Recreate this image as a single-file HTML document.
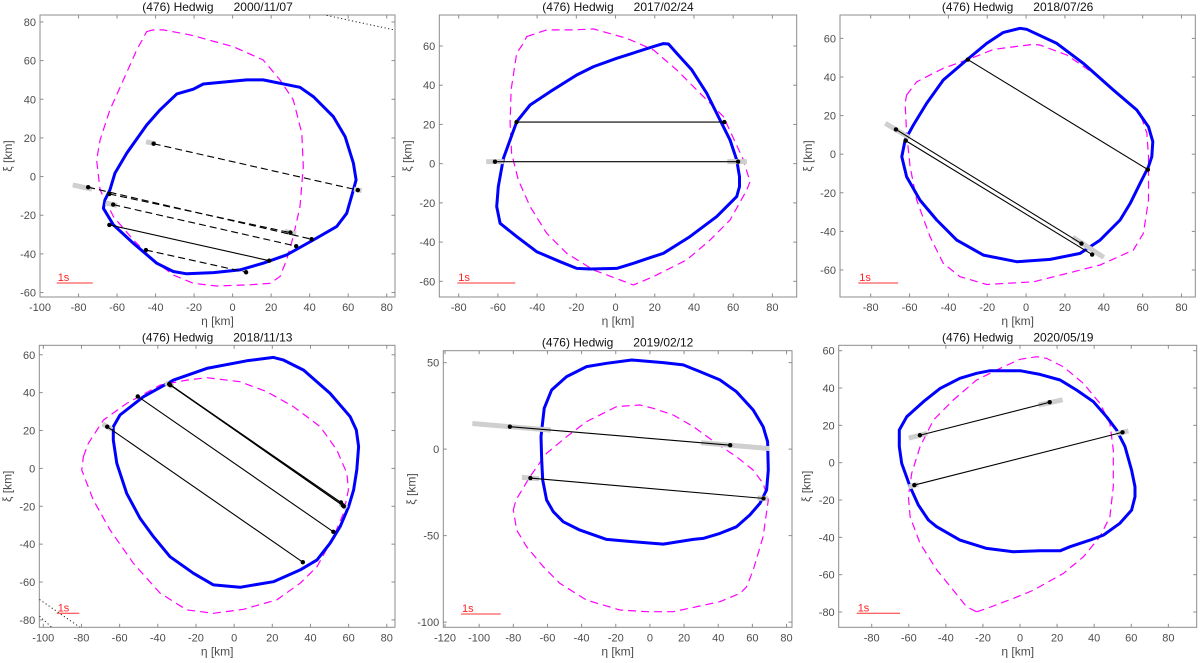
<!DOCTYPE html>
<html><head><meta charset="utf-8"><style>
html,body{margin:0;padding:0;background:#fff;}
svg{display:block;font-family:"Liberation Sans",sans-serif;}
.ttl{white-space:pre;}
</style></head><body>
<svg id="fig" width="1200" height="663" viewBox="0 0 1200 663" xmlns="http://www.w3.org/2000/svg"></svg>
<script>
// ---- data (km) ----
const titles = ["(476) Hedwig      2000/11/07","(476) Hedwig      2017/02/24","(476) Hedwig      2018/07/26","(476) Hedwig      2018/11/13","(476) Hedwig      2019/02/12","(476) Hedwig      2020/05/19"];
const xTicks1 = [-100,-80,-60,-40,-20,0,20,40,60,80];
const yTicks1 = [-60,-40,-20,0,20,40,60,80];
const xTicks2 = [-80,-60,-40,-20,0,20,40,60,80];
const yTicks2 = [-60,-40,-20,0,20,40,60];
const yTicks4 = [-80,-60,-40,-20,0,20,40,60];
const xTicks5 = [-120,-100,-80,-60,-40,-20,0,20,40,60,80];
const yTicks5 = [-100,-50,0,50];

const blue1 = [[-20.4,45.2],[-15.2,47.9],[7.3,50],[15.9,50],[35,46.2],[41.9,41.4],[52.3,31],[58.4,20.7],[62.7,6.9],[64.1,-1.7],[62.7,-6.9],[59.2,-19],[54,-25.9],[41.9,-32.8],[28,-40.5],[15.9,-44.8],[3.8,-48.3],[-10,-49.7],[-23.9,-50.3],[-30.8,-49.1],[-39.4,-44.8],[-51.5,-34.5],[-61.9,-25],[-67.1,-16.4],[-66.3,-12.1],[-63.7,-6.9],[-61.1,1.7],[-55,12.1],[-44.6,26.7],[-37.7,34.5],[-29,42.8]];
const mag1 = [[-44.6,75],[-41.2,75.9],[-36,75.9],[-22.1,73.3],[0.4,67.2],[15.9,60.3],[24.6,50],[31.5,39.7],[35.9,22.4],[36.7,5.2],[35,-15.5],[31.5,-31],[28,-43.1],[24.6,-51.7],[19.4,-55.2],[9,-56],[-8.3,-56.6],[-20.4,-55.2],[-30.8,-50.9],[-41.2,-43.1],[-51.5,-32.8],[-61.9,-20.7],[-68.8,-6.9],[-70.6,8.6],[-68.8,19],[-63.7,34.5],[-56.7,50],[-49.8,65.5]];
const chords1 = [[-41,17,65,-7,1],[-75,-5.5,41,-32.4,1],[-64,-9,30,-29,1],[-62,-14.5,33,-36,1],[-64,-25,19,-43.5,0],[-45,-38,7,-49.5,1]];
const grey1 = [[-83,-4.3,-73,-6.5],[-45,18,-40,17],[63,-6.5,67,-7.3],[-66,-13.6,-60,-15],[27,-28.3,33,-29.6]];
const blue2 = [[-43.6,29.9],[-33.4,36.7],[-19.8,45.2],[-11.2,49.5],[0.6,53.7],[19.3,59.7],[24.4,61.2],[27,61],[31.2,56.3],[38.9,47.8],[46.5,35.9],[53.3,22.3],[58.4,12.1],[61.8,1.9],[63.2,-6.6],[63.2,-11.7],[61.8,-16.8],[51.6,-27],[38,-37.2],[24.4,-45.7],[19.3,-47.4],[9.1,-50.8],[0.6,-53.4],[-13,-53.7],[-19.8,-53.4],[-28.3,-50],[-40.2,-44.9],[-50.4,-37.2],[-58.9,-30.4],[-60.6,-21.9],[-59.8,-11.7],[-57.2,2.7],[-50.4,21.4]];
const mag2 = [[-45.3,64.8],[-35.1,68.2],[-21.5,68.2],[-11.3,68.7],[5.7,63.9],[19.3,58],[31.2,47.8],[43.1,35.9],[55,24],[65.2,1.9],[68.6,-9.2],[66.9,-13.5],[58.4,-28.8],[48.2,-39],[36.3,-49.1],[19.3,-57.6],[9.1,-61.9],[2.3,-59.3],[-11.3,-54.2],[-24.9,-45.7],[-35.1,-35.5],[-43.6,-21.9],[-49.6,-8.3],[-53,5.3],[-53.8,20.6],[-53.3,37.6],[-50.4,56.3],[-47,61.4]];
const chords2 = [[-50.5,21.2,55.5,21.2,0],[-61.5,1,62.5,1,0]];
const grey2 = [[-66,1,-57,1],[57,1,67,1]];
const blue3 = [[-3.1,65.2],[0.3,64.7],[15.8,57.4],[29.5,47],[45,33.2],[57,22.9],[63,14.2],[65.2,6.5],[64.7,-1.3],[63,-6.5],[58.7,-15.1],[53.6,-25.5],[48.4,-34.1],[38.1,-44.5],[27.8,-51.4],[12.4,-54.5],[-4.8,-55.7],[-22,-52.3],[-35.7,-44.5],[-46,-34.1],[-54.6,-23.8],[-61.5,-11.7],[-64,-1.3],[-62.3,7.3],[-58,15.1],[-51.2,26.3],[-42.6,38.4],[-30.6,48.8],[-20.3,57.4],[-11.7,63.1]];
const mag3 = [[-61.5,30.6],[-56.3,37.5],[-42.6,44.5],[-29.7,49.1],[-16.8,54.3],[3.8,56.9],[7.2,56.5],[20.9,51.4],[34.7,41.9],[46.7,31.5],[58.7,21.1],[62.2,10.8],[63,-1.3],[63,-23.8],[60.4,-41],[55.2,-49.7],[38.1,-57.4],[20.9,-61.8],[3.8,-66.1],[-20.3,-67.5],[-34,-63.5],[-42.6,-56.6],[-49.4,-42.8],[-56.3,-23.8],[-59.7,-6.5],[-61.5,10.8],[-62.3,26.3]];
const chords3 = [[-30,49,62.7,-8,0],[-67,12.8,28.5,-46.3,0],[-62,7,34,-52,0]];
const grey3 = [[-72.5,16,-60,8.5],[24,-43,40,-53.5]];
const blue4 = [[-63.3,22],[-59.8,28.2],[-47.6,37.8],[-31.8,46.6],[-14.3,52.8],[6.6,56.8],[20.6,58.6],[25.9,57.2],[36.4,51.9],[50.3,39.6],[60.8,27.3],[64,20.3],[65.2,11.5],[64.3,-0.8],[62.6,-11.4],[60,-20.2],[55.6,-30.7],[50.3,-39.5],[43.4,-48.3],[34.6,-53.6],[20.6,-59.8],[3.1,-62.8],[-10.8,-61.5],[-21.3,-55.4],[-33.6,-46.6],[-42.3,-36],[-49.3,-26.4],[-56.3,-13.2],[-61.5,2.7],[-63.3,15]];
const mag4 = [[-79,6.2],[-76.4,13.2],[-68.5,25.5],[-56.3,34.3],[-38.8,44],[-24.8,46.6],[-14.3,47.9],[3.1,45.8],[17.1,40.5],[31.1,32.6],[45.1,22],[53.8,9.7],[59.1,-2.6],[59.9,-11.4],[57.3,-23.7],[52.1,-36],[43.4,-51.9],[34.6,-60.6],[22.4,-69.4],[4.9,-74.4],[-10.8,-76.5],[-24.8,-74.7],[-38.8,-65.9],[-52.8,-50.1],[-65,-32.5],[-73.8,-16.7],[-79.9,-0.8]];
const chords4 = [[-34,44.5,57.5,-20,0],[-34,44.5,56,-18,0],[-33.5,44,57,-19.5,0],[-50.5,38,52,-33.5,0],[-66.5,22,36,-49.5,0]];
const grey4 = [[-69,23.5,-64,20.5],[-36,45.2,-32,43.2],[55.5,-18.5,59,-21]];
const blue5 = [[-61.9,23.6],[-57.6,34.2],[-48.8,41.9],[-37.1,47.7],[-25.4,49.6],[-10.7,51.5],[7.8,50],[19.5,48.7],[29.3,44.8],[41,40],[50.7,33.2],[60.5,22.6],[66.3,13],[68.9,4.3],[69.3,-12.1],[68.3,-23.6],[64.4,-31.4],[58.5,-38.1],[50.7,-44.9],[41,-48.7],[31.2,-51.6],[25.4,-52.2],[7.8,-54.9],[-9.8,-53.5],[-25.4,-52.2],[-41,-46.8],[-50.7,-42],[-56.6,-36.2],[-60.5,-29.4],[-62.8,-17.9],[-63.4,-6.3],[-63.8,7.2]];
const mag5 = [[-80,-35.2],[-78.4,-29.4],[-70.2,-15.9],[-60.5,-2.4],[-48.8,7.2],[-37.1,15.9],[-19.5,24.6],[-5.9,25.5],[1.9,23.6],[13.7,19.7],[25.4,13],[39,3.3],[50.7,-4.4],[60.5,-12.1],[66.3,-19.8],[69.3,-29.4],[66.3,-50.6],[60.5,-69.9],[56.6,-79.6],[52.7,-83.4],[41,-88.2],[25.4,-91.5],[13.7,-94],[-1.9,-94],[-17.6,-93],[-37.1,-87.3],[-52.7,-77.6],[-62.4,-68],[-72.2,-56.4],[-78,-46.8]];
const chords5 = [[-82,13,47,2.3,0],[-70,-16.7,66.5,-28.5,0]];
const grey5 = [[-104,14.8,-58,11],[30,3.7,70,0.3],[-75,-16.3,-65,-17.1],[63,-28.2,69,-28.7]];
const blue6 = [[-16.2,49.3],[0,49.3],[10.8,47.3],[21.6,44.3],[30.6,38.9],[39.6,32.7],[46.7,24.6],[52.1,17.5],[56.6,8.6],[60.2,-4],[62,-12.9],[62,-18.2],[60.2,-25.4],[53.9,-32.5],[45,-38.8],[37.8,-41.5],[27,-45],[21.6,-47.2],[10.8,-47.2],[-3.6,-47.7],[-18,-45.9],[-32.4,-41.5],[-45,-34.3],[-49.4,-30.7],[-54.8,-22.7],[-59.3,-12.9],[-63.8,-0.4],[-65.1,8.6],[-65.1,17.5],[-61.1,24.6],[-52.1,32.7],[-43.1,39.8],[-32.4,45.2],[-23.4,47.9]];
const mag6 = [[-23.4,-79.9],[-18,-78.1],[-3.6,-72.7],[7.2,-68.3],[23.4,-59.3],[34.2,-50.4],[43.1,-39.7],[48.5,-29],[50.3,-12.9],[50.3,6.8],[48.5,21.1],[43.1,31.8],[34.2,42.5],[23.4,51.4],[14.4,55.9],[9,56.8],[0,55.4],[-10.8,50.5],[-23.4,44.3],[-36,33.6],[-46.7,22.8],[-53.9,8.6],[-58.4,-5.7],[-60.2,-18.2],[-59.3,-29],[-53.9,-43.3],[-44.9,-57.5],[-36,-68.3],[-28.8,-77.2]];
const chords6 = [[-54,14.7,16,32.4,0],[-57,-12,55.3,16.3,0]];
const grey6 = [[-60,13.2,-50,15.7],[10,30.9,23,33.7],[-60,-13,-55,-11.6],[52,15.5,58.5,17]];
const dotted1 = [[48.8,83.4,84.3,75.8]];
const dotted4 = [[-102,-69.2,-80.8,-83.9],[-102,-78,-95.6,-83.9]];

// layout: box [l,t,r,b], domain [xmin,xmax,ymin,ymax]
const P = [
 {box:[40,15,395,297],dom:[-100,84.3,-62.3,83.6],xt:xTicks1,yt:yTicks1,blue:blue1,mag:mag1,ch:chords1,gr:grey1,dot:dotted1,sb:[56.7,92.7,283]},
 {box:[439.3,15,796.7,297],dom:[-89.9,92.4,-68,75.8],xt:xTicks2,yt:yTicks2,blue:blue2,mag:mag2,ch:chords2,gr:grey2,dot:[],sb:[457.3,515.3,283]},
 {box:[840,15,1195.3,297],dom:[-95.8,87.1,-74,72.1],xt:xTicks2,yt:yTicks2,blue:blue3,mag:mag3,ch:chords3,gr:grey3,dot:[],sb:[858.3,898,283]},
 {box:[39.3,345.3,395,627.3],dom:[-102.1,84.3,-83.9,65],xt:xTicks1,yt:yTicks4,blue:blue4,mag:mag4,ch:chords4,gr:grey4,dot:dotted4,sb:[56.7,79.3,613.3]},
 {box:[443.3,350.7,792,627.3],dom:[-121,83.2,-103,56.9],xt:xTicks5,yt:yTicks5,blue:blue5,mag:mag5,ch:chords5,gr:grey5,dot:[],sb:[461,500.7,614]},
 {box:[838.7,345.3,1196.7,627.3],dom:[-97.8,95.3,-88.2,62.9],xt:xTicks2,yt:yTicks4,blue:blue6,mag:mag6,ch:chords6,gr:grey6,dot:[],sb:[856.7,900,613.3]}
];
const NS='http://www.w3.org/2000/svg';
const svg=document.getElementById('fig');
function mk(tag,attrs,parent,txt){const e=document.createElementNS(NS,tag);for(const k in attrs)e.setAttribute(k,attrs[k]);if(txt!==undefined)e.textContent=txt;(parent||svg).appendChild(e);return e;}
P.forEach((p,i)=>{
  const [l,t,r,b]=p.box,[x0,x1,y0,y1]=p.dom;
  const X=v=>l+(v-x0)/(x1-x0)*(r-l), Y=v=>b-(v-y0)/(y1-y0)*(b-t);
  const g=mk('g',{});
  
  
  const cid='clip'+i;
  const cp=mk('clipPath',{id:cid},g); mk('rect',{x:l,y:t,width:r-l,height:b-t},cp);
  const box=mk('rect',{x:l,y:t,width:r-l,height:b-t,fill:'#fff',stroke:'#8c8c8c','stroke-width':1},g);
  
  
  p.xt.forEach(v=>{const x=X(v);mk('line',{x1:x,x2:x,y1:b,y2:b-3.5,stroke:'#8c8c8c'},g);mk('line',{x1:x,x2:x,y1:t,y2:t+3.5,stroke:'#8c8c8c'},g);
    const tx=mk('text',{x:x,y:b+14,'font-size':11,fill:'#4d4d4d','text-anchor':'middle'},g,String(v));
    
    });
  p.yt.forEach(v=>{const y=Y(v);mk('line',{x1:l,x2:l+3.5,y1:y,y2:y,stroke:'#8c8c8c'},g);mk('line',{x1:r,x2:r-3.5,y1:y,y2:y,stroke:'#8c8c8c'},g);
    const ty=mk('text',{x:l-4,y:y+4,'font-size':11,fill:'#4d4d4d','text-anchor':'end'},g,String(v));
    
    });
  const ti=mk('text',{x:(l+r)/2,y:t-4,'font-size':12,fill:'#111','text-anchor':'middle','class':'ttl'},g,titles[i]);
  
  
  const xl=mk('text',{x:(l+r)/2,y:b+28,'font-size':12,fill:'#4d4d4d','text-anchor':'middle'},g,'η [km]');
  
  
  const yc=(t+b)/2;
  const yl=mk('text',{x:l-28,y:yc,'font-size':12,fill:'#4d4d4d','text-anchor':'middle',transform:`rotate(-90 ${l-28} ${yc})`},g,'ξ [km]');
  
  
  const inner=mk('g',{'clip-path':`url(#${cid})`},g);
  p.dot.forEach(d=>{const e=mk('line',{x1:X(d[0]),y1:Y(d[1]),x2:X(d[2]),y2:Y(d[3]),stroke:'#222','stroke-width':1,'stroke-dasharray':'1.2,2.5'},inner);
    
    });
  const pts=a=>a.map(q=>X(q[0]).toFixed(1)+','+Y(q[1]).toFixed(1)).join(' ');
  const mg=mk('polygon',{points:pts(p.mag),fill:'none',stroke:'#ff00ff','stroke-width':1.2,'stroke-dasharray':'8,5'},inner);
  
  
  const bl=mk('polygon',{points:pts(p.blue),fill:'none',stroke:'#0000ff','stroke-width':3,'stroke-linejoin':'round'},inner);
  
  
  p.gr.forEach(d=>{const e=mk('line',{x1:X(d[0]),y1:Y(d[1]),x2:X(d[2]),y2:Y(d[3]),stroke:'#cfcfcf','stroke-width':5},inner);
    
    });
  p.ch.forEach(c=>{const e=mk('line',{x1:X(c[0]),y1:Y(c[1]),x2:X(c[2]),y2:Y(c[3]),stroke:'#000','stroke-width':1.1},inner);
    if(c[4])e.setAttribute('stroke-dasharray','7,4');
    
    
    [[c[0],c[1]],[c[2],c[3]]].forEach(q=>{const d=mk('circle',{cx:X(q[0]),cy:Y(q[1]),r:2.2,fill:'#000'},inner);
      
      });});
  const [s0,s1,sy]=p.sb;
  const sl=mk('line',{x1:s0,x2:s1,y1:sy,y2:sy,stroke:'#ff3030','stroke-width':1},g);
  
  
  const st=mk('text',{x:s0+1,y:sy-2,'font-size':11,fill:'#ff2020'},g,'1s');
  
  
});
</script>
</body></html>
